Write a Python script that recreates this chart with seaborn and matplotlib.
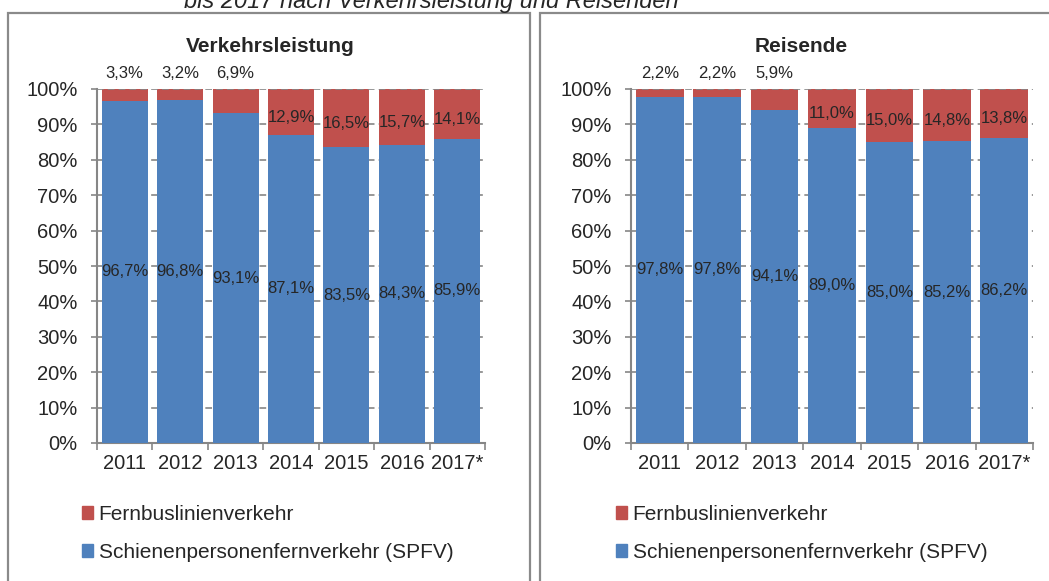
import pandas as pd
import seaborn as sns
import matplotlib.pyplot as plt
from matplotlib.patches import Rectangle, Patch
from matplotlib.ticker import FixedLocator

years = ['2011', '2012', '2013', '2014', '2015', '2016', '2017*']
spfv_leistung = [96.7, 96.8, 93.1, 87.1, 83.5, 84.3, 85.9]
bus_leistung = [3.3, 3.2, 6.9, 12.9, 16.5, 15.7, 14.1]
spfv_reisende = [97.8, 97.8, 94.1, 89.0, 85.0, 85.2, 86.2]
bus_reisende = [2.2, 2.2, 5.9, 11.0, 15.0, 14.8, 13.8]

blue = '#4F81BD'
red = '#C0504D'
grey = '#868686'

sns.set_theme(style='white')
plt.rcParams['font.family'] = ['Liberation Sans', 'DejaVu Sans']

W, H = 1049, 581
fig = plt.figure(figsize=(W / 100, H / 100), dpi=100)

# panel frames (pixel coords -> figure fraction)
def frame(x0, x1, y_top):
    fig.add_artist(Rectangle((x0 / W, -0.05), (x1 - x0) / W, 1.05 - y_top / H,
                             transform=fig.transFigure, fill=False,
                             edgecolor='#8a8a8a', lw=1.6, clip_on=False))

frame(8, 530, 13)
frame(540, 1060, 13)

fig.text(431 / W, 1 - 8 / H, 'bis 2017 nach Verkehrsleistung und Reisenden',
         ha='center', va='baseline', fontsize=17, style='italic')


def pct(v):
    return f'{v:.1f}%'.replace('.', ',')


def panel(rect, title, title_x, spfv, bus, leg_x):
    ax = fig.add_axes(rect)
    df = pd.DataFrame({'Jahr': years, 'SPFV': spfv, 'Bus': bus})
    df['Gesamt'] = df['SPFV'] + df['Bus']
    sns.barplot(data=df, x='Jahr', y='Gesamt', color=red, width=0.83,
                saturation=1, ax=ax, zorder=2, linewidth=0, edgecolor='none')
    sns.barplot(data=df, x='Jahr', y='SPFV', color=blue, width=0.83,
                saturation=1, ax=ax, zorder=3, linewidth=0, edgecolor='none')
    ax.set_xlim(-0.5, 6.5)
    ax.set_ylim(0, 100)
    ax.set_xlabel('')
    ax.set_ylabel('')
    ticks = list(range(0, 101, 10))
    ax.set_yticks(ticks, [f'{v}%' for v in ticks])
    for v in ticks[1:]:
        ax.axhline(v, color=grey, lw=1.2, ls=(0, (4, 2.5)), zorder=1 if v < 100 else 4)
    for s in ['top', 'right']:
        ax.spines[s].set_visible(False)
    for s in ['left', 'bottom']:
        ax.spines[s].set_color(grey)
        ax.spines[s].set_linewidth(1.5)
    ax.tick_params(axis='y', length=4, width=1.2, color=grey, pad=10, labelsize=14.5, left=True)
    ax.tick_params(axis='x', length=0, pad=8, labelsize=14.5)
    ax.xaxis.set_minor_locator(FixedLocator([i - 0.5 for i in range(8)]))
    ax.tick_params(axis='x', which='minor', length=5, width=1.2, color=grey, bottom=True)

    for i, (b, r) in enumerate(zip(spfv, bus)):
        ax.text(i, b / 2, pct(b), ha='center', va='center', fontsize=12, zorder=5)
        if r < 10:
            ax.text(i, 104.5, pct(r), ha='center', va='center', fontsize=12,
                    clip_on=False)
        else:
            ax.text(i, b + r / 2 - 1.5, pct(r), ha='center', va='center',
                    fontsize=12, zorder=5)

    fig.text(title_x / W, 1 - 46 / H, title, ha='center', va='center',
             fontsize=15, fontweight='bold')

    handles = [Patch(color=red, label='Fernbuslinienverkehr'),
               Patch(color=blue, label='Schienenpersonenfernverkehr (SPFV)')]
    fig.legend(handles=handles, loc='upper left',
               bbox_to_anchor=(leg_x / W, 1 - 505 / H), frameon=False,
               fontsize=15, handlelength=0.55, handleheight=0.55,
               handletextpad=0.25, labelspacing=0.9, borderaxespad=0,
               borderpad=0)
    return ax


panel([97 / W, 1 - 443 / H, 388 / W, 354 / H], 'Verkehrsleistung', 270,
      spfv_leistung, bus_leistung, 82)
panel([631 / W, 1 - 443 / H, 402 / W, 354 / H], 'Reisende', 801,
      spfv_reisende, bus_reisende, 616)

fig.savefig('out.png', dpi=100)
